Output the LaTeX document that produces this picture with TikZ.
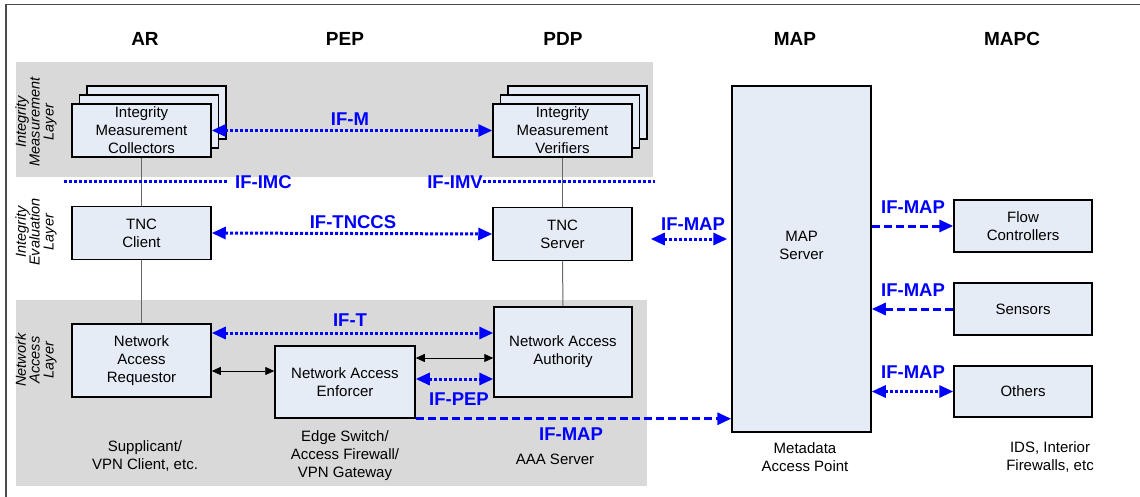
\documentclass[tikz,border=0pt]{standalone}
\usepackage{fontspec}
\setmainfont{Liberation Sans}
\usetikzlibrary{arrows.meta,positioning}
\definecolor{boxblue}{RGB}{230,236,246}
\definecolor{bandgray}{RGB}{217,217,217}
\definecolor{ifblue}{RGB}{0,0,255}

\begin{document}
\begin{tikzpicture}[x=1pt,y=-1pt,inner sep=0pt]
\tikzstyle{blk}=[rectangle, draw=black, line width=1.5pt, fill=boxblue, align=center, font=\fontsize{15}{18}\selectfont, minimum width=139pt, minimum height=53pt]
\tikzstyle{head}=[font=\fontsize{19}{22}\selectfont\bfseries]
\tikzstyle{iflab}=[text=ifblue, font=\fontsize{18.5}{20}\selectfont\bfseries]
\tikzstyle{layer}=[rotate=90, align=center, font=\fontsize{14.5}{14}\selectfont\itshape]
\tikzstyle{note}=[align=center, font=\fontsize{15}{18}\selectfont]
\tikzstyle{ifdot}=[draw=ifblue, line width=3pt, dash pattern=on 3pt off 2pt, >={Triangle[length=14pt,width=12pt]}]
\tikzstyle{ifdash}=[draw=ifblue, line width=3pt, dash pattern=on 8pt off 4pt, >={Triangle[length=14pt,width=12pt]}]
\tikzstyle{link}=[draw=black, line width=0.8pt, >={Triangle[length=9pt,width=8pt]}, <->]
\tikzstyle{wire}=[draw=black!60, line width=1pt]
\useasboundingbox (0,0) rectangle (1140,497);
% frame and layer bands
\draw[black!70, line width=1.5pt] (6,497) -- (6,4.5) -- (1140,4.5);
\fill[bandgray] (16,62) rectangle (653,177);
\fill[bandgray] (16,300) rectangle (647,486);

% column heads
\node[head] (har) at (145,39) {AR};
\node[head] (hpep) at (345,39) {PEP};
\node[head] (hpdp) at (563,39) {PDP};
\node[head] (hmap) at (795,39) {MAP};
\node[head] (hmapc) at (1012,39) {MAPC};

% layer names
\node[layer] (lim) at (36,122) {Integrity\\Measurement\\Layer};
\node[layer] (lie) at (36,232) {Integrity\\Evaluation\\Layer};
\node[layer] (lna) at (36,360) {Network\\Access\\Layer};

% vertical wires
\coordinate (imcx) at (141.5,0);
\coordinate (imvx) at (563,0);

% boxes
\node[blk] (imc3) at (156.5,112.5) {};
\node[blk] (imc2) at (149,121.5) {};
\node[blk] (imc) at (141.5,130.5) {Integrity\\Measurement\\Collectors};
\node[blk] (imv3) at (577.5,112.5) {};
\node[blk] (imv2) at (570,121.5) {};
\node[blk] (imv) at (562.5,130.5) {Integrity\\Measurement\\Verifiers};
\node[blk] (tncc) at (141.5,233) {TNC\\Client};
\node[blk] (tncs) at (562.5,234) {TNC\\Server};
\node[blk, minimum height=73pt] (nar) at (141.5,360.5) {Network\\Access\\Requestor};
\node[blk, minimum width=140pt, minimum height=72pt] (nae) at (345,382) {Network Access\\Enforcer};
\node[blk, minimum width=138pt, minimum height=90pt] (naa) at (563,352) {Network Access\\Authority};
\node[blk, minimum height=346pt, label={[yshift=14pt,align=center,font=\fontsize{15}{18}\selectfont]center:MAP\\Server}] (map) at (801.5,259) {};
\node[blk, minimum width=138pt, minimum height=52pt] (flow) at (1023,226) {Flow\\Controllers};
\node[blk, minimum width=138pt, minimum height=52pt] (sens) at (1023,309) {Sensors};
\node[blk, minimum width=138pt, minimum height=51pt] (oth) at (1023,391.5) {Others};

\draw[wire] (imc.south) -- (tncc.north);
\draw[wire] (tncc.south) -- (nar.north);
\draw[wire] (imv.south) -- (tncs.north);
\draw[wire] (tncs.south) -- (naa.north);

% interface lines
\coordinate (imcl) at (64,182);
\coordinate (imvr) at (655,182);
\node[iflab, anchor=west] (ifimc) at (235,182) {IF-IMC};
\node[iflab, anchor=east] (ifimv) at (483,182) {IF-IMV};
\draw[ifdot] (imcl) -- (ifimc.west) [shorten >=7pt];
\draw[ifdot] (ifimv.east) -- (imvr);

\draw[ifdot,<->] (imc.east) -- (imv.west);
\node[iflab] (ifm) at (350,119) {IF-M};
\draw[ifdot,<->] (tncc.east) -- (tncs.west);
\node[iflab] (iftnccs) at (353,222) {IF-TNCCS};

\coordinate (rowmap) at (0,239);
\draw[ifdot,<->,shorten <=18pt,shorten >=4pt] (tncs.east |- rowmap) -- (map.west |- rowmap);
\node[iflab] (ifmap1) at (693,224) {IF-MAP};

\coordinate (rowt) at (0,333);
\coordinate (rownae) at (0,371);
\coordinate (rownaa) at (0,358);
\coordinate (rowpep) at (0,379);
\draw[ifdot,<->] (nar.east |- rowt) -- (naa.west |- rowt);
\node[iflab] (ift) at (350,320) {IF-T};
\draw[link] (nar.east |- rownae) -- (nae.west |- rownae);
\draw[link] (nae.east |- rownaa) -- (naa.west |- rownaa);
\draw[ifdot,<->] (nae.east |- rowpep) -- (naa.west |- rowpep);
\node[iflab] (ifpep) at (459,399) {IF-PEP};
\draw[ifdash,->] (nae.south east) -- (nae.south east -| map.west);
\node[iflab] (ifmap2) at (571,434) {IF-MAP};

\draw[ifdash,->] (map.east |- flow.west) -- (flow.west);
\node[iflab] (ifmap3) at (913,207) {IF-MAP};
\draw[ifdash,->] (sens.west) -- (map.east |- sens.west);
\node[iflab] (ifmap4) at (913,290) {IF-MAP};
\draw[ifdot,<->] (map.east |- oth.west) -- (oth.west);
\node[iflab] (ifmap5) at (913,372) {IF-MAP};

% notes under the columns
\node[note] (nsup) at (145,456) {Supplicant/\\VPN Client, etc.};
\node[note] (nedge) at (345,456) {Edge Switch/\\Access Firewall/\\VPN Gateway};
\node[note] (naaa) at (555,459) {AAA Server};
\node[note] (nmeta) at (805,457) {Metadata\\Access Point};
\node[note] (nids) at (1050,457) {IDS, Interior\\Firewalls, etc};
\end{tikzpicture}
\end{document}
